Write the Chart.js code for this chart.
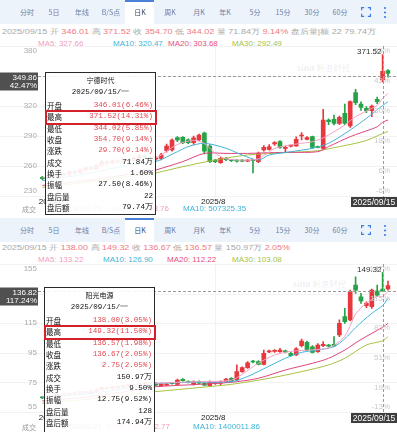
<!DOCTYPE html>
<html>
<head>
<meta charset="utf-8">
<script src="https://cdn.jsdelivr.net/npm/chart.js@4.4.1/dist/chart.umd.min.js"></script>
<style>
  body { margin: 0; width: 397px; height: 432px; position: relative; overflow: hidden; background: #fff; font-family: "Liberation Sans", Arial, sans-serif; }
  .abs { position: absolute; white-space: nowrap; }
  .bar { position: absolute; left: 0; width: 397px; height: 24px; background: #edf3fb; }
  .tab { position: absolute; top: 0; height: 24px; line-height: 24px; font-size: 7px; font-family: "Noto Sans CJK SC", sans-serif; color: #6c7ea6; transform: translateX(-50%); white-space: nowrap; }
  .sel { position: absolute; left: 125px; top: 0; width: 29px; height: 24px; background: #fff; border-top: 2px solid #4a7fd8; box-sizing: border-box; }
  .hdr { position: absolute; left: 2px; height: 10px; line-height: 10px; font-size: 7px; white-space: nowrap; transform-origin: 0 50%; color: #a8a8a8; }
  .hdr .r { color: #f07a82; }
  .ma { position: absolute; height: 11px; line-height: 11px; font-size: 8px; white-space: nowrap; }
  .vol { position: absolute; height: 10px; line-height: 10px; font-size: 8px; white-space: nowrap; }
  .cjk { font-family: "Noto Sans CJK SC", sans-serif; }
  .wm { position: absolute; white-space: nowrap; color: rgba(0,0,0,0.09); font-size: 8.5px; font-family: "Noto Sans CJK SC", sans-serif; }
  .wm i { font-family: "Liberation Serif"; font-weight: bold; font-size: 10px; }
  canvas { position: absolute; left: 0; }
  .tip { position: absolute; border: 1px solid #2a2a2a; background: rgba(255,255,255,0.9); box-sizing: border-box; }
  .tip .t { position: absolute; left: 0; right: 0; height: 13px; line-height: 13px; text-align: center; white-space: nowrap; }
  .tip .row { position: absolute; left: 1px; right: 2px; height: 11.35px; line-height: 11.35px; display: flex; justify-content: space-between; white-space: nowrap; }
  .tip .k { font-size: 7.5px; font-family: "Noto Sans CJK SC", sans-serif; color: #111; }
  .tip .v { font-size: 7.6px; font-family: "Liberation Mono", monospace; color: #111; }
  .tip .v.r { color: #e24a52; }
  .hl { position: absolute; left: -1px; right: -2px; height: 15px; border: 2px solid #d42129; box-sizing: border-box; }
</style>
</head>
<body>
<div class="wm" style="left:297px;top:61px"><i>sina</i> 新浪财经</div>
<div class="wm" style="left:293px;top:277px"><i>sina</i> 新浪财经</div>

<div class="hdr" id="h1" style="top:27px">2025/09/15 开 <span class="r">346.01</span> 高 <span class="r">371.52</span> 收 <span class="r">354.70</span> 低 <span class="r">344.02</span> 量 71.84万 <span class="r">9.14%</span> 盘后量|额 22 79.74万</div>
<div class="ma" style="top:38px;left:38px;color:#f2a0c2">MA5: 327.66</div>
<div class="ma" style="top:38px;left:113px;color:#3fb4d8">MA10: 320.47</div>
<div class="ma" style="top:38px;left:168px;color:#e5507f">MA20: 303.68</div>
<div class="ma" style="top:38px;left:232px;color:#a9c23e">MA30: 292.49</div>

<div class="hdr" id="h2" style="top:243px">2025/09/15 开 <span class="r">138.00</span> 高 <span class="r">149.32</span> 收 <span class="r">136.67</span> 低 <span class="r">136.57</span> 量 150.97万 <span class="r">2.05%</span></div>
<div class="ma" style="top:254px;left:38px;color:#f2a0c2">MA5: 133.22</div>
<div class="ma" style="top:254px;left:103px;color:#3fb4d8">MA10: 126.90</div>
<div class="ma" style="top:254px;left:167px;color:#e5507f">MA20: 112.22</div>
<div class="ma" style="top:254px;left:232px;color:#a9c23e">MA30: 103.08</div>

<canvas id="c1" width="397" height="180" style="top:40px"></canvas>
<canvas id="c2" width="397" height="174" style="top:258px"></canvas>

<div class="vol cjk" style="top:204px;left:22px;color:#9a9a9a;font-size:7px">成交</div>
<div class="vol" style="top:204px;left:64px;color:#999">718410.23</div>
<div class="vol" style="top:204px;right:228px;color:#f2a0c2">MA5: 582603.76</div>
<div class="vol" style="top:204px;left:183px;color:#3fb4d8">MA10: 507325.35</div>

<div class="vol cjk" style="top:422px;left:22px;color:#9a9a9a;font-size:7px">成交</div>
<div class="vol" style="top:422px;left:60px;color:#999">1250809.21</div>
<div class="vol" style="top:422px;right:227px;color:#f2a0c2">MA5: 1358052.77</div>
<div class="vol" style="top:422px;left:193px;color:#3fb4d8">MA10: 1400011.86</div>

<div class="tip" id="tip1" style="left:45px;top:72px;width:111px;height:143px"></div>
<div class="tip" id="tip2" style="left:44px;top:287px;width:111px;height:152px"></div>

<script>
// trading days shown, oldest first
const dates = ('06/18 06/19 06/20 06/23 06/24 06/25 06/26 06/27 06/30 ' +
  '07/01 07/02 07/03 07/04 07/07 07/08 07/09 07/10 07/11 07/14 07/15 07/16 07/17 07/18 07/21 07/22 07/23 07/24 07/25 07/28 07/29 07/30 07/31 ' +
  '08/01 08/04 08/05 08/06 08/07 08/08 08/11 08/12 08/13 08/14 08/15 08/18 08/19 08/20 08/21 08/22 08/25 08/26 08/27 08/28 08/29 ' +
  '09/01 09/02 09/03 09/04 09/05 09/08 09/09 09/10 09/11 09/12 09/15 09/16').split(' ').map(d => '2025/' + d);

// 宁德时代 daily candles
const topOpen = [248.7, 247.3, 250.1, 249.2, 252, 251.1, 254.4, 253, 255.8, 258.2, 257.2, 260.6, 263.9, 262.5, 264.8, 263.9, 266.3, 265.3, 268.2, 270.1, 268.6, 267.2,
  267.7, 275.3, 276.2, 288.3, 288.7, 286.2, 283.4, 286.2, 292.9, 280, 266, 263.4, 267.7, 265.8, 265.3, 265.3, 264.8, 265.8, 264.4, 276, 276.7, 282, 284.3, 277.7, 279.8,
  280, 290, 286.7, 289.3, 279.1, 277.7, 306, 306.6, 302.7, 312.7, 300, 333.3, 322, 317.7, 315.3, 326.7, 346.01, 355.3];
const topHigh = [249.6, 251.1, 251.5, 253, 253.4, 255.3, 255.8, 256.8, 259.1, 259.6, 261.5, 265.3, 265.3, 266.3, 265.8, 267.2, 267.7, 269.1, 271.5, 271, 269.6, 269.1,
  272.7, 282, 287.2, 289.5, 289.5, 287.2, 290, 291.9, 293.8, 281.5, 266.7, 268.6, 268.6, 266.7, 266.3, 266.3, 266.3, 266.7, 273.9, 280.5, 281.5, 284.3, 285.3, 280, 281,
  289.1, 293.3, 289.5, 290, 280, 316.6, 307.1, 310.9, 310, 322, 325.2, 336.6, 324.2, 319.3, 320.9, 329, 371.52, 356.5];
const topLow = [246.3, 246.8, 248.2, 248.2, 250.1, 250.6, 252, 252.5, 254.9, 256.3, 256.8, 259.6, 261.5, 262, 263, 263.4, 264.4, 264.8, 267.2, 267.7, 266.3, 265.8,
  266, 273.9, 274.8, 284.3, 282.4, 282.4, 281.5, 285.3, 272, 263.4, 263.4, 262.5, 265.3, 264.4, 263.9, 264.4, 264.4, 253, 263.4, 274.8, 275.8, 280.5, 277.7, 274.3, 279.1,
  279.6, 286, 286.2, 277.7, 278.1, 276.7, 301.4, 301, 301.4, 301.4, 298.6, 321.4, 315.7, 313.3, 309.3, 322.3, 344.02, 348.9];
const topClose = [247.3, 250.1, 249.2, 252, 251.1, 254.4, 253, 255.8, 258.2, 257.2, 260.6, 263.9, 262.5, 264.8, 263.9, 266.3, 265.3, 268.2, 270.1, 268.6, 267.2, 268.2,
  271, 280, 286, 286, 283.4, 283.4, 288.1, 291, 274.8, 264.4, 264.4, 267.7, 266.3, 265.3, 264.8, 264.8, 265.5, 265.3, 272.7, 278.7, 279.1, 283.4, 278.7, 278.7, 280.3,
  286.7, 291, 288.3, 278.7, 278.6, 306, 304.3, 302.7, 308.6, 302.7, 324.3, 323.3, 318.7, 315.3, 320, 324.3, 354.70, 352.7];
// moving averages: [trading days before the last one, value]
const topMA5 = [[64, 248.2], [58, 253], [52, 262.5], [47, 266.3], [43, 268.2], [41, 274.8], [39, 281.5], [36, 285.7], [34, 282.4], [32, 272.9], [30, 267.2], [26, 265.8],
  [24, 267.2], [23, 270.5], [22, 273.9], [21, 277.7], [17, 282], [14, 284.3], [12, 288.1], [11, 291], [8, 301], [6, 309.4], [3, 317.6], [2, 320.5], [1, 327.66], [0, 332.6]];
const topMA10 = [[64, 245.4], [56, 252], [50, 258.7], [46, 262.5], [43, 264.4], [39, 274.3], [37, 279.4], [34, 282.7], [30, 277.7], [27, 271], [24, 266], [22, 271],
  [18, 274.3], [14, 277.7], [11, 282.7], [7, 296], [4, 307.7], [1, 320.47], [0, 324.3]];
const topMA20 = [[64, 240.6], [56, 245.4], [50, 250.1], [44, 254.9], [43, 256], [38, 264.4], [34, 272.6], [30, 272.6], [26, 272.6], [22, 273.3], [18, 273.7], [13, 274.3],
  [11, 279.4], [7, 289.3], [3, 297], [2, 299.2], [1, 303.68], [0, 306]];
const topMA30 = [[64, 238.7], [56, 243.5], [50, 248.2], [44, 252], [43, 253], [38, 259.3], [32, 266], [26, 271], [19, 273.3], [13, 275.3], [9, 279.4], [6, 282.7],
  [4, 285.5], [2, 290], [1, 292.49], [0, 294.4]];
const topTicks = [380, 350, 320, 290, 260, 230];
const topPct = ['55%', '42%', '30%', '18%', '6%', '-6%'];

// 阳光电源 daily candles
const botOpen = [65.2, 64.5, 65.8, 65.3, 66.6, 67.3, 66.8, 68, 68.4, 67.9, 69.3, 70, 71.4, 70.8, 72, 71.6, 72.6, 73.2, 72.7, 73.8, 74.4,
  74.4, 72.8, 73.2, 74.6, 73.7, 77.1, 75.5, 73.7, 75.5, 74.4, 72.8, 74.3, 74.4, 75.5, 77.8, 76.6, 82.3, 85, 89.2, 89, 87.2, 95.6, 96, 95.8, 96, 94.6,
  93.5, 99.8, 102.1, 99.1, 95.8, 99.8, 100.3, 100.7, 107, 119.4, 117.2, 140.8, 132.9, 126.8, 126.2, 136.8, 138, 138.1];
const botHigh = [65.6, 66.2, 66.3, 67, 67.8, 67.8, 68.4, 69, 68.8, 69.8, 70.6, 72, 71.8, 72.4, 72.6, 73.1, 73.8, 73.6, 74.3, 75, 74.8,
  74.8, 74.4, 74.2, 75, 77.3, 77.5, 76, 76, 76, 75, 76, 75.1, 76, 77.8, 78.2, 86.8, 85.6, 89, 89.9, 89.7, 96.9, 96.9, 97.1, 98, 96.9, 95.3,
  98.5, 104.3, 103, 99.8, 101.2, 102.5, 100.7, 105.9, 117.2, 125, 137.4, 146.4, 135.2, 129.5, 138.1, 140.8, 149.32, 143.5];
const botLow = [64, 64.2, 64.8, 65, 66.2, 66.4, 66.6, 67.6, 67.5, 67.7, 68.8, 69.7, 70.3, 70.5, 71.1, 71.3, 72.1, 72.2, 72.4, 73.4, 73.5,
  72.8, 72.3, 72.8, 73.8, 73.2, 75.8, 74.6, 73.2, 74, 72.8, 72.3, 73.7, 72.8, 75.1, 75.1, 76.2, 81.8, 84.5, 88.1, 86.8, 86.8, 95.1, 95.3, 95.3, 95, 92.6,
  93.1, 98.9, 96.2, 94.9, 95.3, 99.1, 98.9, 99.1, 105.9, 114.9, 116.5, 135.2, 128.4, 125.5, 125, 132.9, 136.57, 137.4];
const botClose = [64.5, 65.8, 65.3, 66.6, 67.3, 66.8, 68, 68.4, 67.9, 69.3, 70, 71.4, 70.8, 72, 71.6, 72.6, 73.2, 72.7, 73.8, 74.4, 74,
  73.2, 73.9, 73.9, 74.2, 76.6, 76.2, 75.1, 75.5, 74.4, 73.2, 75.5, 74.6, 75.5, 77.3, 75.5, 82.3, 85, 88.3, 88.8, 87.2, 94.6, 96, 96.4, 96.9, 95.6, 93.1,
  97.6, 103, 96.9, 95.3, 100.3, 100.7, 99.4, 99.6, 114.9, 116, 136.3, 137.4, 130, 128.4, 137.4, 134, 136.67, 140.4];
const botMA5 = [[64, 65.5], [58, 67.5], [52, 70.5], [47, 72.6], [43, 74.4], [35, 75.5], [29, 76.5], [27, 80.5], [24, 88], [21, 93.5], [18, 96], [14, 97],
  [11, 98.3], [9, 102.7], [8, 106.3], [7, 113.2], [6, 121.2], [4, 128.5], [2, 133], [1, 133.22], [0, 136.3]];
const botMA10 = [[64, 64.8], [56, 67.3], [50, 70], [46, 72.5], [43, 74.2], [35, 75.2], [29, 75.5], [26, 79], [22, 86], [19, 91.3], [16, 95.3], [13, 96.9],
  [10, 99.2], [8, 104.5], [6, 112], [3, 121.7], [1, 126.9], [0, 131.8]];
const botMA20 = [[64, 62.5], [56, 65], [50, 68], [46, 70.5], [43, 72.1], [35, 73.7], [29, 75.1], [24, 77.8], [19, 83.4], [14, 87.9], [11, 91.3], [8, 96.9],
  [5, 104], [1, 112.22], [0, 114.9]];
const botMA30 = [[64, 61], [56, 63.5], [50, 66], [46, 67.8], [43, 68.8], [35, 71.5], [29, 73.7], [22, 77.8], [16, 82.3], [11, 86.8], [8, 91.3], [4, 100.3],
  [1, 103.08], [0, 105.9]];
const botTicks = [155, 135, 115, 95, 75, 55];
const botPct = ['147%', '115%', '83%', '51%', '19%', '-13%'];

const RED = '#e8383d', GREEN = '#26a347';
const MA_COLORS = ['#f3a2c4', '#40b4d8', '#e0457c', '#a8c040'];

// toolbars
const tabNames = ['分时', '5日', '年线', 'B/S点', '日K', '周K', '月K', '年K', '5分', '15分', '30分', '60分'];
const tabX = [27, 54, 82, 111, 140, 170, 199, 225, 255, 283, 312, 340];
function toolbar(top) {
    const bar = document.createElement('div');
    bar.className = 'bar';
    bar.style.top = top + 'px';
    bar.innerHTML = '<div class="sel"></div>' +
        tabNames.map((t, i) => `<div class="tab" style="left:${tabX[i]}px;${t === '日K' ? 'color:#34496f' : ''}">${t}</div>`).join('') +
        '<svg class="abs" style="left:361px;top:7px" width="10" height="10"><path d="M0.6 3.2V0.6H3.2M6.8 0.6H9.4V3.2M9.4 6.8V9.4H6.8M3.2 9.4H0.6V6.8" fill="none" stroke="#3d7fe6" stroke-width="1.2"/></svg>' +
        '<svg class="abs" style="left:383px;top:6px" width="4" height="13"><circle cx="2" cy="2" r="1.1" fill="#3d7fe6"/><circle cx="2" cy="6.5" r="1.1" fill="#3d7fe6"/><circle cx="2" cy="11" r="1.1" fill="#3d7fe6"/></svg>';
    document.body.appendChild(bar);
}
toolbar(0);
toolbar(218);

// squeeze header lines to the reference width
function fit(id, w) {
    const el = document.getElementById(id);
    el.style.transform = `scaleX(${w / el.getBoundingClientRect().width})`;
}
fit('h1', 374);
fit('h2', 288);

// tooltip boxes
function buildTip(id, title, date, rows) {
    const el = document.getElementById(id);
    let html = `<div class="t cjk" style="top:1px;font-size:7px;color:#111">${title}</div>` +
        `<div class="t" style="top:14px;font:7.5px 'Liberation Mono';color:#111">${date}</div>`;
    rows.forEach((r, i) => {
        const top = 27 + i * 11.35;
        html += `<div class="row" style="top:${top}px"><span class="k">${r[0]}</span><span class="v${r[2] ? ' r' : ''}">${r[1]}</span></div>`;
    });
    html += `<div class="hl" style="top:${27 + 11.35 * 1.5 - 7.5}px"></div>`;
    el.innerHTML = html;
}
buildTip('tip1', '宁德时代', '2025/09/15/一', [
    ['开盘', '346.01(6.46%)', 1], ['最高', '371.52(14.31%)', 1], ['最低', '344.02(5.85%)', 1], ['收盘', '354.70(9.14%)', 1],
    ['涨跌', '29.70(9.14%)', 1], ['成交', '71.84万', 0], ['换手', '1.60%', 0], ['振幅', '27.50(8.46%)', 0], ['盘后量', '22', 0], ['盘后额', '79.74万', 0]]);
buildTip('tip2', '阳光电源', '2025/09/15/一', [
    ['开盘', '138.00(3.05%)', 1], ['最高', '149.32(11.50%)', 1], ['最低', '136.57(1.98%)', 1], ['收盘', '136.67(2.05%)', 1],
    ['涨跌', '2.75(2.05%)', 1], ['成交', '150.97万', 0], ['换手', '9.50%', 0], ['振幅', '12.75(9.52%)', 0], ['盘后量', '128', 0], ['盘后额', '174.94万', 0]]);

// grid, axis labels, crosshair and tags
const overlay = {
    id: 'overlay',
    beforeDatasetsDraw(chart, args, o) {
        const { ctx, scales: { x, y } } = chart;
        ctx.save();
        ctx.strokeStyle = '#f2f2f2';
        ctx.lineWidth = 1;
        o.ticks.forEach(v => {
            const py = Math.round(y.getPixelForValue(v)) + 0.5;
            ctx.beginPath(); ctx.moveTo(0, py); ctx.lineTo(chart.width, py); ctx.stroke();
        });
        o.xTicks.forEach(d => {
            const px = Math.round(x.getPixelForValue(dates.indexOf(d))) + 0.5;
            ctx.beginPath(); ctx.moveTo(px, chart.chartArea.top); ctx.lineTo(px, chart.chartArea.bottom); ctx.stroke();
        });
        ctx.restore();
    },
    afterDatasetsDraw(chart, args, o) {
        const { ctx, chartArea: a, scales: { x, y } } = chart;
        const last = o.ticks.length - 1;
        ctx.save();
        ctx.font = '8px "Liberation Sans"';
        ctx.textAlign = 'right';
        ctx.fillStyle = '#ababab';
        o.ticks.forEach((v, i) => {
            const py = y.getPixelForValue(v);
            ctx.textBaseline = i === 0 ? 'top' : i === last ? 'bottom' : 'middle';
            ctx.fillText(String(v), 37, i === 0 ? py + 1 : i === last ? py - 1 : py);
        });
        ctx.fillStyle = '#cacaca';
        o.pct.forEach((t, i) => {
            const py = y.getPixelForValue(o.ticks[i]);
            ctx.textBaseline = i === last ? 'bottom' : 'top';
            ctx.fillText(t, 390, i === last ? py - 1 : py + 1);
        });

        const cx = Math.round(x.getPixelForValue(dates.indexOf(o.crossDate))) + 0.5;
        const cy = Math.round(y.getPixelForValue(o.crossValue)) + 0.5;
        ctx.strokeStyle = '#9c9c9c';
        ctx.lineWidth = 1;
        ctx.setLineDash([3, 2]);
        ctx.beginPath(); ctx.moveTo(38, cy); ctx.lineTo(chart.width, cy); ctx.stroke();
        ctx.beginPath(); ctx.moveTo(cx, a.top); ctx.lineTo(cx, a.bottom + 1); ctx.stroke();
        ctx.setLineDash([]);

        // high price note
        ctx.fillStyle = '#333';
        ctx.textBaseline = 'middle';
        ctx.fillText(o.highValue.toFixed(2), cx - 2, y.getPixelForValue(o.highValue) - 3);

        // price tag on the left
        ctx.fillStyle = '#505050';
        ctx.fillRect(0, cy - 4, 38, 18);
        ctx.fillStyle = '#fff';
        ctx.fillText(o.crossValue.toFixed(2), 37, cy + 1.5);
        ctx.fillText(o.crossPct, 37, cy + 9.5);

        // date tag
        ctx.fillStyle = '#3e3e3e';
        ctx.fillRect(chart.width - 46, a.bottom + 1, 46, 10);
        ctx.fillStyle = '#fff';
        ctx.font = '8.5px "Liberation Sans"';
        ctx.textAlign = 'center';
        ctx.fillText(o.crossDate, chart.width - 23, a.bottom + 6.5);

        // month labels
        ctx.fillStyle = '#222';
        ctx.font = '8px "Liberation Sans"';
        o.xTicks.forEach((d, i) => ctx.fillText(o.xText[i], x.getPixelForValue(dates.indexOf(d)) - 2, a.bottom + 6));
        ctx.textAlign = 'left';
        ctx.fillText(o.firstText, a.left - 1, a.bottom + 6);
        ctx.restore();
    }
};

function candleChart(id, s) {
    const col = s.close.map((c, i) => c >= s.open[i] ? RED : GREEN);
    const ma = (pts, color) => ({
        type: 'line',
        order: 0,
        data: pts.map(([k, v]) => ({ x: dates[dates.length - 1 - k], y: v })),
        borderColor: color,
        borderWidth: 1,
        pointRadius: 0,
        tension: 0.3,
        fill: false
    });
    return new Chart(document.getElementById(id), {
        type: 'bar',
        data: {
            labels: dates,
            datasets: [
                ma(s.ma[0], MA_COLORS[0]), ma(s.ma[1], MA_COLORS[1]), ma(s.ma[2], MA_COLORS[2]), ma(s.ma[3], MA_COLORS[3]),
                { data: s.open.map((o, i) => [o, s.close[i]]), backgroundColor: col, barThickness: 4, minBarLength: 1, grouped: false, order: 1 },
                { data: s.low.map((l, i) => [l, s.high[i]]), backgroundColor: col, barThickness: 1, grouped: false, order: 2 }
            ]
        },
        options: {
            responsive: false,
            animation: false,
            events: [],
            layout: { padding: { left: 39.7, right: 6.3, top: 6, bottom: s.padBottom } },
            scales: {
                x: { display: false, offset: true },
                y: { display: false, min: s.min, max: s.max }
            },
            plugins: {
                legend: { display: false },
                tooltip: { enabled: false },
                overlay: s.overlay
            }
        },
        plugins: [overlay]
    });
}

candleChart('c1', {
    open: topOpen, high: topHigh, low: topLow, close: topClose,
    ma: [topMA5, topMA10, topMA20, topMA30],
    min: 230, max: 380, padBottom: 24,
    overlay: { ticks: topTicks, pct: topPct, crossDate: '2025/09/15', crossValue: 349.86, crossPct: '42.47%', highValue: 371.52,
        xTicks: ['2025/08/01'], xText: ['2025/8'], firstText: '2025/6' }
});
candleChart('c2', {
    open: botOpen, high: botHigh, low: botLow, close: botClose,
    ma: [botMA5, botMA10, botMA20, botMA30],
    min: 55, max: 155, padBottom: 20,
    overlay: { ticks: botTicks, pct: botPct, crossDate: '2025/09/15', crossValue: 136.82, crossPct: '117.24%', highValue: 149.32,
        xTicks: ['2025/08/01'], xText: ['2025/8'], firstText: '2025/6' }
});
</script>
</body>
</html>
